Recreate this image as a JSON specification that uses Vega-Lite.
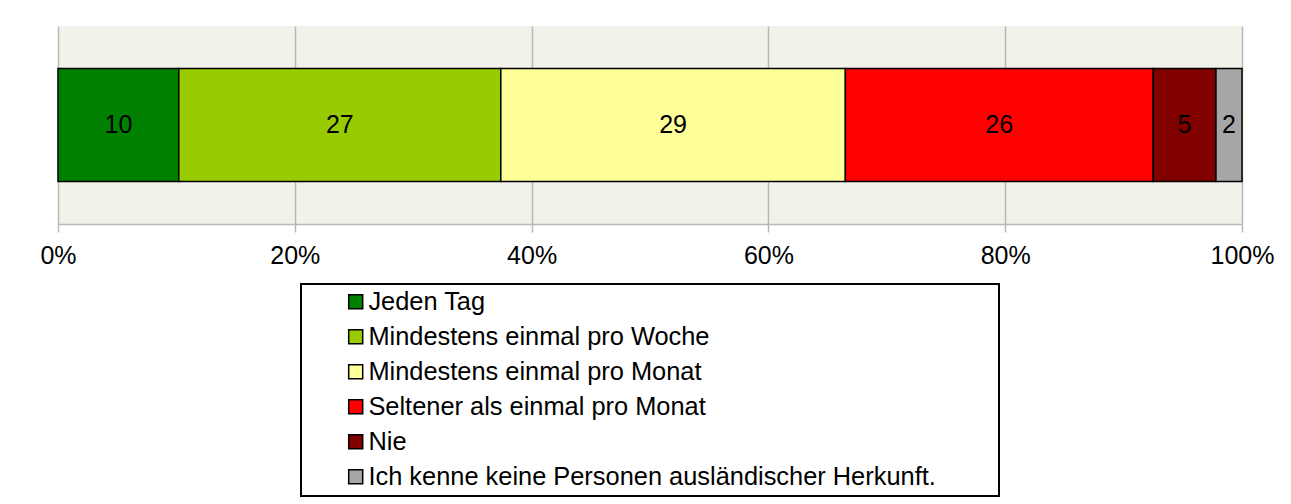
{
  "$schema": "https://vega.github.io/schema/vega-lite/v6.json",
  "width": 1184,
  "height": 198,
  "autosize": {"type": "none"},
  "padding": {"left": 58, "top": 26, "right": 49, "bottom": 280},
  "background": "white",
  "config": {
    "font": "Liberation Sans",
    "view": {"fill": "#F2F1EA", "stroke": null}
  },
  "data": {
    "values": [
      {"row": "a", "category": "Jeden Tag", "value": 10.2, "order": 1},
      {"row": "a", "category": "Mindestens einmal pro Woche", "value": 27.2, "order": 2},
      {"row": "a", "category": "Mindestens einmal pro Monat", "value": 29.1, "order": 3},
      {"row": "a", "category": "Seltener als einmal pro Monat", "value": 26.0, "order": 4},
      {"row": "a", "category": "Nie", "value": 5.3, "order": 5},
      {"row": "a", "category": "Ich kenne keine Personen ausländischer Herkunft.", "value": 2.2, "order": 6}
    ]
  },
  "transform": [
    {"stack": "value", "groupby": ["row"], "sort": [{"field": "order", "order": "ascending"}], "as": ["x0", "x1"]},
    {"calculate": "(datum.x0 + datum.x1) / 2", "as": "xmid"}
  ],
  "encoding": {
    "y": {"field": "row", "type": "nominal", "axis": null, "scale": {"paddingInner": 0, "paddingOuter": 0.376}}
  },
  "layer": [
    {
      "mark": {"type": "bar", "stroke": "black", "strokeWidth": 1.5},
      "encoding": {
        "x": {
          "field": "x0",
          "type": "quantitative",
          "scale": {"domain": [0, 100], "nice": false},
          "axis": {
            "title": null,
            "values": [0, 20, 40, 60, 80, 100],
            "labelExpr": "datum.value + '%'",
            "labelFlush": false,
            "labelFontSize": 25,
            "labelColor": "black",
            "labelPadding": 11,
            "grid": true,
            "gridColor": "#B8B8B8",
            "gridWidth": 1.5,
            "domainColor": "#B8B8B8",
            "domainWidth": 1.5,
            "tickColor": "#B8B8B8",
            "tickWidth": 1.5,
            "tickSize": 8
          }
        },
        "x2": {"field": "x1"},
        "color": {
          "field": "category",
          "type": "nominal",
          "sort": null,
          "scale": {
            "domain": ["Jeden Tag", "Mindestens einmal pro Woche", "Mindestens einmal pro Monat", "Seltener als einmal pro Monat", "Nie", "Ich kenne keine Personen ausländischer Herkunft."],
            "range": ["#008000", "#99CC00", "#FFFF99", "#FF0000", "#800000", "#A6A6A6"]
          },
          "legend": {
            "orient": "none",
            "legendX": 243,
            "legendY": 258,
            "direction": "vertical",
            "title": "\u00a0",
            "titleOrient": "right",
            "titlePadding": 58,
            "titleFontSize": 1,
            "symbolType": "square",
            "symbolSize": 196,
            "symbolStrokeColor": "black",
            "symbolStrokeWidth": 1.5,
            "symbolOffset": 37,
            "labelFontSize": 25.4,
            "labelFont": "Liberation Sans",
            "labelColor": "black",
            "labelOffset": 0,
            "labelLimit": 0,
            "rowPadding": 8,
            "padding": 5,
            "strokeColor": "black",
            "fillColor": "white",
            "encode": {"legend": {"update": {"strokeWidth": {"value": 2}}}}
          }
        }
      }
    },
    {
      "mark": {"type": "text", "fontSize": 25, "color": "black", "font": "Liberation Sans"},
      "encoding": {
        "x": {"field": "xmid", "type": "quantitative"},
        "text": {"field": "value", "type": "quantitative", "format": ".0f"}
      }
    }
  ]
}
